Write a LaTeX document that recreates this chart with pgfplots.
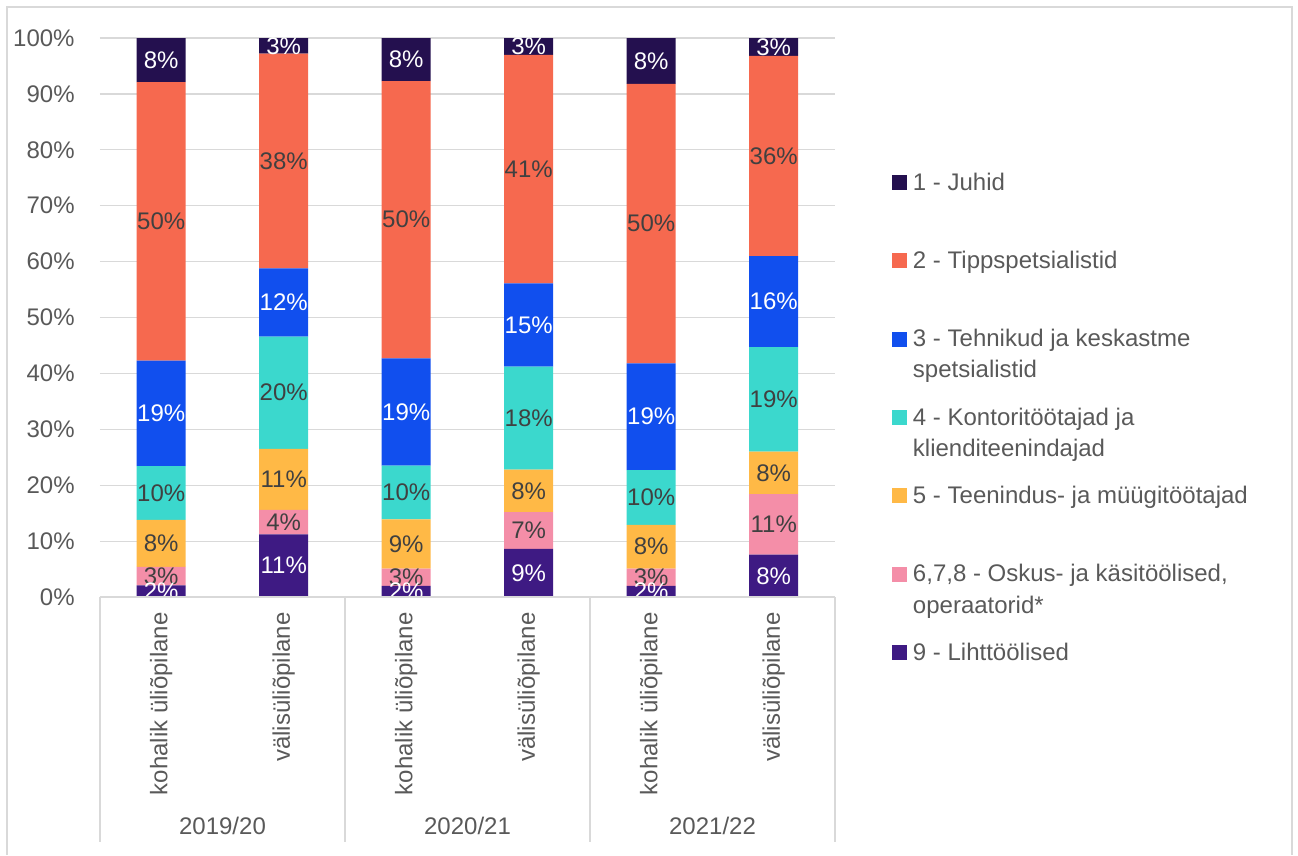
\documentclass[border=0pt]{standalone}
\usepackage{fontspec}
\setmainfont{Liberation Sans}
\usepackage{pgfplots}
\pgfplotsset{compat=1.18}

\definecolor{juhid}{HTML}{24104F}
\definecolor{tipp}{HTML}{F6694F}
\definecolor{tehn}{HTML}{114FEE}
\definecolor{kont}{HTML}{3BD8CD}
\definecolor{teen}{HTML}{FFB946}
\definecolor{oskus}{HTML}{F48EA8}
\definecolor{liht}{HTML}{3E1A83}
\definecolor{txt}{HTML}{595959}
\definecolor{lbl}{HTML}{404040}
\definecolor{gridc}{HTML}{D9D9D9}

\newcommand\f{\fontsize{12pt}{15.65pt}\selectfont}
\newcommand\two[2]{\begin{tabular}[t]{@{}l@{}}#1\\#2\end{tabular}}

\begin{document}
\begin{tikzpicture}
\begin{axis}[
  at={(50pt,-298.5pt)}, anchor=south west,
  scale only axis, width=367.5pt, height=279.5pt,
  ybar stacked, bar width=24.5pt,
  xmin=-0.5, xmax=5.5, ymin=0, ymax=100,
  xtick={0,...,5},
  xticklabels={kohalik üliõpilane, välisüliõpilane, kohalik üliõpilane, välisüliõpilane, kohalik üliõpilane, välisüliõpilane},
  ytick={0,10,...,100},
  yticklabels={0\%,10\%,20\%,30\%,40\%,50\%,60\%,70\%,80\%,90\%,100\%},
  xticklabel style={font=\f, text=txt, rotate=90, anchor=east, inner sep=0pt},
  xticklabel shift=7.5pt,
  yticklabel style={font=\f, text=txt, anchor=east, inner sep=0pt},
  yticklabel shift=12.5pt,
  axis line style={draw=none},
  major tick length=0pt, tick style={draw=none},
  ymajorgrids, grid style={gridc, line width=0.6pt},
  clip=false,
  /pgf/number format/assume math mode=true,
  nodes near coords={\pgfmathprintnumber[fixed,precision=0]{\pgfplotspointmeta}\%},
  every node near coord/.append style={font=\f, text=lbl, anchor=center, inner sep=0pt},
  every axis plot/.append style={draw=none,
    legend image code/.code={\fill[##1] (0pt,0pt) rectangle (7.35pt,7.5pt);}},
  legend cell align=left,
  legend style={at={(1.07755,0.76029)}, anchor=north west, draw=none, fill=none,
    inner sep=0pt, outer sep=0pt, font=\f, text=txt, row sep=0pt, column sep=3.15pt,
    nodes={inner sep=0pt, outer sep=0pt, text height=9pt, text depth=30.17pt},
    cells={anchor=base west}},
  reverse legend,
]
% bottom to top: 9, 6-8, 5, 4, 3, 2, 1
\addplot[fill=liht, every node near coord/.append style={text=white}]
  coordinates {(0,2.1)(1,11.2)(2,2.0)(3,8.6)(4,2.0)(5,7.6)};
\addlegendentry{9 - Lihttöölised}
\addplot[fill=oskus]
  coordinates {(0,3.3)(1,4.4)(2,3.1)(3,6.6)(4,3.1)(5,10.8)};
\addlegendentry{\two{6,7,8 - Oskus- ja käsitöölised,}{operaatorid*}}
\addplot[fill=teen]
  coordinates {(0,8.4)(1,10.9)(2,8.8)(3,7.6)(4,7.8)(5,7.6)};
\addlegendentry{5 - Teenindus- ja müügitöötajad}
\addplot[fill=kont]
  coordinates {(0,9.6)(1,20.1)(2,9.6)(3,18.4)(4,9.8)(5,18.7)};
\addlegendentry{\two{4 - Kontoritöötajad ja}{klienditeenindajad}}
\addplot[fill=tehn, every node near coord/.append style={text=white}]
  coordinates {(0,18.9)(1,12.2)(2,19.2)(3,14.9)(4,19.1)(5,16.3)};
\addlegendentry{\two{3 - Tehnikud ja keskastme}{spetsialistid}}
\addplot[fill=tipp]
  coordinates {(0,49.8)(1,38.4)(2,49.6)(3,40.9)(4,50.0)(5,35.8)};
\addlegendentry{2 - Tippspetsialistid}
\addplot[fill=juhid, every node near coord/.append style={text=white}]
  coordinates {(0,7.9)(1,2.8)(2,7.7)(3,3.0)(4,8.2)(5,3.2)};
\addlegendentry{1 - Juhid}
\end{axis}
\begin{scope}[x=0.5pt, y=-0.5pt]
  \path (0,0) rectangle (1298,855);
  \draw[gridc, line width=0.75pt] (7,855) -- (7,7) -- (1292,7) -- (1292,855);
  \draw[gridc, line width=0.75pt] (100,597) -- (835,597);
  \foreach \xx in {100,345,590,835} \draw[gridc, line width=0.75pt] (\xx,597) -- (\xx,842);
  \node[font=\f, text=txt, inner sep=0pt] at (222.5,826) {2019/20};
  \node[font=\f, text=txt, inner sep=0pt] at (467.5,826) {2020/21};
  \node[font=\f, text=txt, inner sep=0pt] at (712.5,826) {2021/22};
\end{scope}
\end{tikzpicture}
\end{document}
